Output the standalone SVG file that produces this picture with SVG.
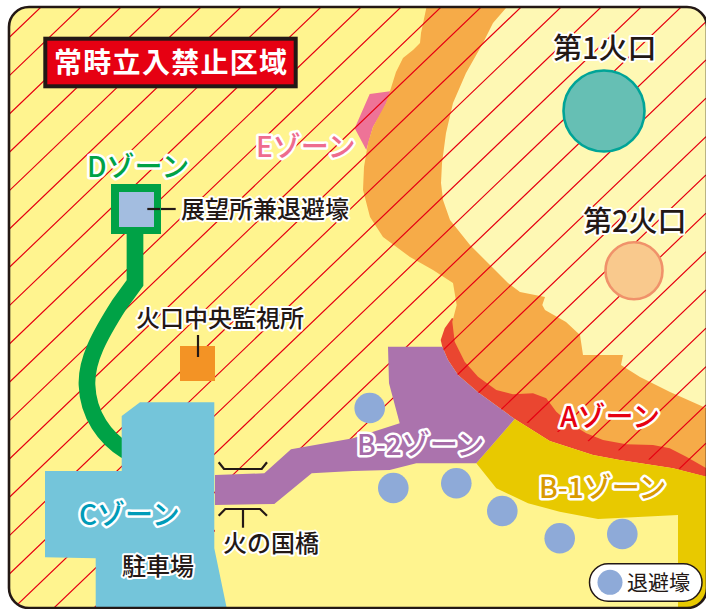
<svg xmlns="http://www.w3.org/2000/svg" width="706" height="609" viewBox="0 0 706 609">
<style>
text{font-family:"Noto Sans CJK JP","Noto Sans",sans-serif;paint-order:stroke;stroke-linejoin:round}
.lab{font-size:24px;font-weight:500;fill:#231815;stroke:#fff;stroke-width:4px}
.crater{font-size:29px;font-weight:500;fill:#231815;stroke:#fff;stroke-width:4px}
.zone{font-size:28px;font-weight:500;stroke:#fff;stroke-width:5px}
.leader{fill:none;stroke:#231815;stroke-width:2.2}
.refuge{fill:#8eaad8}
</style>
<defs>
<clipPath id="frame"><rect x="9" y="7" width="698" height="601" rx="20"/></clipPath>
<clipPath id="hatchArea"><path d="M0 0H706V476.7L514.7 419L476 463L353 455L215 490V609H0Z"/></clipPath>
</defs>
<rect x="9" y="7" width="698" height="601" rx="20" fill="#fff48f"/>
<g clip-path="url(#frame)">
<path id="zone-e-shape" fill="#ee7397" d="M369.7 94L392 91L383 110L373 127L366.3 150L354.7 128.3Z"/>
<path id="zone-a-shape" fill="#ea4630" d="M452 318L444.7 328.3L440.7 340L442.3 346.7L448 360L458 375L478 392.3L514.7 419L549.7 441L593 455L619.7 460L673 468.3L706 476.7V460L600 400L500 340Z"/>
<path id="orange-belt" fill="#f6ab48" d="M428 0L421 33L420 43L413 50L403 58L396 72L391 88L386 103L373 127L368 143L364 167L363 190L370 217L383 237L410 257L433 270L453 283L456.7 305L452.3 321.7L454.7 341.7L464.7 361.7L478 376.7L496.3 390L513 394.3L533 393.3L546.3 398.3L556.3 411.7L569.7 423.3L586.3 433.3L603 440L626.3 444.3L653 445L669.7 448.3L686.3 456.7L706 468V0Z"/>
<path id="crater-area" fill="#fef8b4" d="M511 0L506 8L493 23L483 43L466 73L453 103L446 133L442 163L441 183L443 200L450 220L470 245L490 265L508 283L520 292L545 297L542.3 305L545 310L566 322L580 335L583 355L603 355L623 355L621 365L640 377L670 392L706 408V0Z"/>
<path id="hatch" clip-path="url(#hatchArea)" fill="none" stroke="#e60012" stroke-width="1.2" d="M0 46.3L706 -630M0 84.6L706 -591.8M0 123L706 -553.4M0 161.3L706 -515.1M0 199.6L706 -476.8M0 238L706 -438.4M0 276.3L706 -400.1M0 314.6L706 -361.8M0 353L706 -323.4M0 391.3L706 -285.1M0 429.6L706 -246.8M0 468L706 -208.4M0 506.3L706 -170.1M0 544.6L706 -131.8M0 583L706 -93.4M0 621.3L706 -55.1M0 659.6L706 -16.8M0 698L706 21.6M0 736.3L706 59.9M0 774.6L706 98.2M0 813L706 136.6M0 851.3L706 174.9M0 889.6L706 213.2M0 928L706 251.6M0 966.3L706 289.9M0 1004.6L706 328.2M0 1043L706 366.6M0 1081.3L706 404.9M0 1119.6L706 443.2M0 1158L706 481.6M0 1196.3L706 519.9"/>
<path id="zone-b1-shape" fill="#e8c900" d="M514.7 419L549.7 441L593 455L619.7 460L673 468.3L707 476.7V609H678V515L598 519L559.7 511.7L528 503.3L496.3 488.3L476.3 463.3Z"/>
<path id="zone-b2-shape" fill="#ab73ad" d="M215 475L264.3 473.3L291 449.3L353 438.3L399.7 423.3L389 383.3L388 346.7L442.3 346.7L448 360L458 375L478 392.3L514.7 419L476.3 463.3H416.3L389.7 470L353 471L311.7 473.3L274.3 504L215 505Z"/>
<path id="road-d" fill="none" stroke="#00a246" stroke-width="16.7" d="M135 230V283L119 305C100 335 86 360 87 385C88 415 105 438 126 451"/>
<path id="zone-c-shape" fill="#74c5da" d="M121.7 416L140 402.3H214.3V548.3L226.7 608H95.7V558.3L45 557.3V471H121.7Z"/>
</g>
<rect id="border" x="9" y="7" width="698" height="601" rx="20" fill="none" stroke="#231815" stroke-width="2.6"/>
<g id="connectors">
<path class="leader" d="M147.3 209H175.7"/>
<path class="leader" d="M198 335V357"/>
<path class="leader" d="M218.7 462.3L224 469H261.7L267 462.3"/>
<path class="leader" d="M218.7 515.7L225.3 509H260L267 515.7"/>
<path class="leader" d="M243 509V527.7"/>
</g>
<g id="title"><rect x="45.3" y="38.7" width="250.4" height="47.6" fill="#e60012" stroke="#231815" stroke-width="4"/><text x="54" y="73" font-size="28" font-weight="700" fill="#fff" letter-spacing="1.3">常時立入禁止区域</text></g>
<g id="crater-1"><circle cx="604" cy="111" r="40.5" fill="#66bfb4" stroke="#00a497" stroke-width="2.6"/><text class="crater" x="553" y="59">第1火口</text></g>
<g id="crater-2"><circle cx="634" cy="270.7" r="28.5" fill="#f9c98d" stroke="#f0926a" stroke-width="2.6"/><text class="crater" x="583" y="232">第2火口</text></g>
<g id="zone-d"><text class="zone" x="87" y="177" fill="#00a246">Dゾーン</text></g>
<g id="zone-e"><text class="zone" x="256" y="157" fill="#ee6c8e">Eゾーン</text></g>
<g id="shelter-observatory"><rect x="111" y="184" width="50" height="50" fill="#00a246"/><rect x="119" y="192" width="35" height="35" fill="#a3bde0"/><path class="leader" d="M147.3 209H160"/><text class="lab" x="181" y="218">展望所兼退避壕</text></g>
<g id="monitor"><rect x="180" y="346" width="35" height="35" fill="#f39325"/><path class="leader" d="M198 346V357"/><text class="lab" x="136" y="327">火口中央監視所</text></g>
<g id="zone-c"><text class="zone" x="79" y="525" fill="#009bb8">Cゾーン</text></g>
<g id="parking"><text class="lab" x="122" y="575">駐車場</text></g>
<g id="bridge"><text class="lab" x="223" y="552">火の国橋</text></g>
<g id="zone-a"><text class="zone" x="560" y="427" fill="#e60012">Aゾーン</text></g>
<g id="zone-b1"><text class="zone" x="539" y="498" fill="#d99a00">B-1ゾーン</text></g>
<g id="zone-b2"><text class="zone" x="357" y="455" fill="#a66ba8">B-2ゾーン</text></g>
<g id="refuges">
<circle class="refuge" cx="369.7" cy="408" r="15.3"/>
<circle class="refuge" cx="393.3" cy="488" r="15.3"/>
<circle class="refuge" cx="456.3" cy="483.3" r="15.3"/>
<circle class="refuge" cx="502.3" cy="511" r="15.3"/>
<circle class="refuge" cx="559.7" cy="538.3" r="15.3"/>
<circle class="refuge" cx="622.3" cy="534" r="15.3"/>
</g>
<g id="legend"><rect x="589.5" y="563.8" width="112.5" height="37.5" rx="18.7" fill="#fff" stroke="#231815" stroke-width="1.5"/><circle class="refuge" cx="610" cy="582.3" r="12.5"/><text x="627" y="590" font-size="21" fill="#231815">退避壕</text></g>
</svg>
